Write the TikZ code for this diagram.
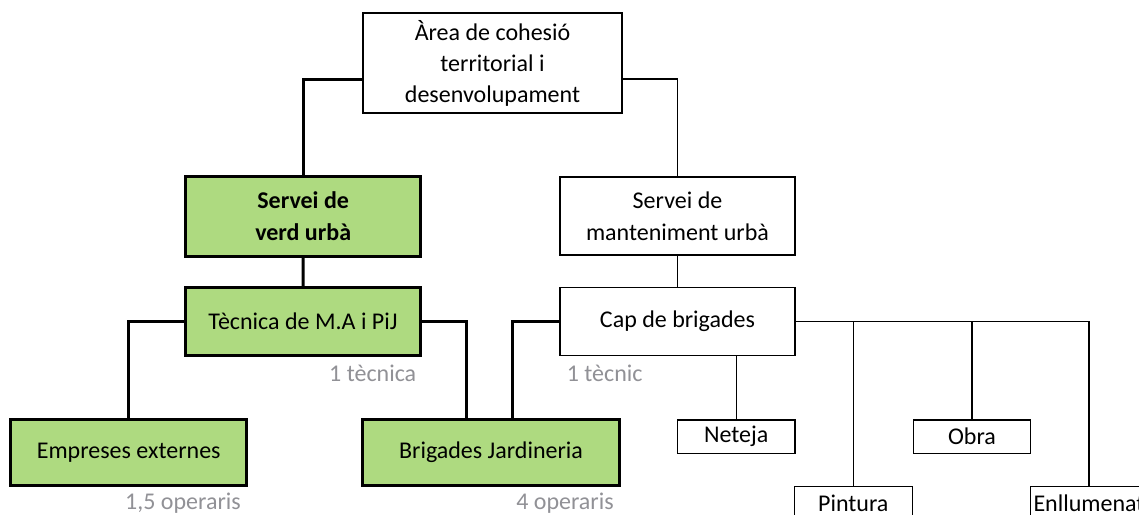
\documentclass[tikz,border=0pt]{standalone}
\usepackage{fontspec}
\setmainfont{Carlito}
\definecolor{boxgreen}{RGB}{174,218,128}
\definecolor{labgray}{RGB}{145,145,150}
\tikzset{
  x=1pt, y=-1pt,
  box/.style={draw=black, rectangle, inner sep=0pt, align=center, text=black,
    font=\fontsize{24}{31}\selectfont},
  thinbox/.style={box, line width=1.3pt, fill=white},
  greenbox/.style={box, line width=3pt, fill=boxgreen},
  thinline/.style={line width=1.3pt, draw=black},
  thickline/.style={line width=3pt, draw=black},
  lab/.style={text=labgray, inner sep=0pt, font=\fontsize{24}{29}\selectfont}
}
\begin{document}
\begin{tikzpicture}
\useasboundingbox (0,0) rectangle (1139,514);
\clip (0,0) rectangle (1139,514);
\fill[white] (0,0) rectangle (1139,514);

% nodes
\node[thinbox, minimum width=259pt, minimum height=100pt] (area) at (492.5,63)
  {Àrea de cohesió\\territorial i\\desenvolupament};
\node[greenbox, minimum width=235pt, minimum height=80pt, font=\fontsize{24}{32}\selectfont\bfseries] (verd) at (303.2,216)
  {Servei de\\verd urbà};
\node[thinbox, minimum width=235pt, minimum height=78pt, font=\fontsize{24}{32}\selectfont] (mant) at (677.5,216)
  {Servei de\\manteniment urbà};
\node[greenbox, minimum width=235.7pt, minimum height=67.5pt] (tec) at (303,321.3)
  {Tècnica de M.A i PiJ};
\node[thinbox, minimum width=235pt, minimum height=68pt] (cap) at (677.5,321.7)
  {Cap de brigades};
\node[greenbox, minimum width=236pt, minimum height=66.4pt] (emp) at (128.7,452.5)
  {Empreses externes};
\node[greenbox, minimum width=256.6pt, minimum height=66.4pt] (brig) at (491,452.5)
  {Brigades Jardineria};
\node[thinbox, minimum width=117.7pt, minimum height=33.3pt] (net) at (736.2,436.7)
  {Neteja};
\node[thinbox, minimum width=117.4pt, minimum height=33.3pt] (obra) at (972,436.7)
  {Obra};
\node[thinbox, minimum width=118pt, minimum height=33.3pt] (pint) at (853.3,503.3)
  {Pintura};
\node[thinbox, minimum width=117pt, minimum height=33.3pt] (enll) at (1089,503.3)
  {Enllumenat};

% labels
\node[lab] (l1) at (372.7,373) {1 tècnica};
\node[lab] (l2) at (604.7,373) {1 tècnic};
\node[lab] (l3) at (183,503) {1,5 operaris};
\node[lab] (l4) at (565,503) {4 operaris};

% connectors
\draw[thickline] ([yshift=-16pt]area.west) -| (verd.north);
\draw[thinline] ([yshift=-16pt]area.east) -| (mant.north);
\draw[thickline] (verd.south) -- (tec.north);
\draw[thinline] (mant.south) -- (cap.north);
\draw[thickline] (tec.west) -| (emp.north);
\draw[thickline] (tec.east) -| ([xshift=-24.3pt]brig.north);
\draw[thickline] (cap.west) -| ([xshift=21.3pt]brig.north);
\draw[thinline] (cap.south -| net.north) -- (net.north);
\draw[thinline] (cap.east) -| (enll.north);
\draw[thinline] (cap.east -| pint.north) -- (pint.north);
\draw[thinline] (cap.east -| obra.north) -- (obra.north);
\end{tikzpicture}
\end{document}
